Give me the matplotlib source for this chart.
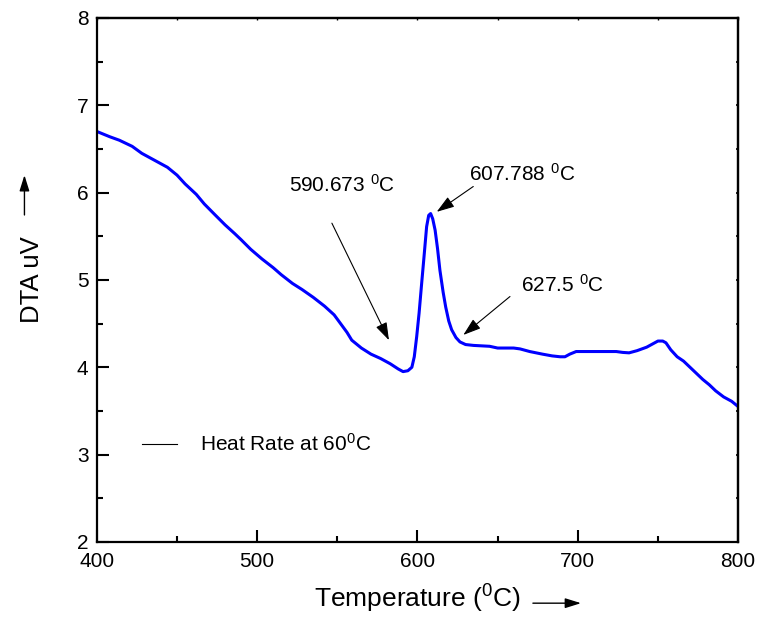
import matplotlib

matplotlib.use("Agg")
import matplotlib.pyplot as plt
from matplotlib.lines import Line2D
from matplotlib.ticker import MultipleLocator

plt.rcParams["font.family"] = ["Liberation Sans", "DejaVu Sans"]
plt.rcParams["mathtext.fontset"] = "custom"
plt.rcParams["mathtext.rm"] = "Liberation Sans"
plt.rcParams["mathtext.it"] = "Liberation Sans"

# DTA trace (temperature in degC, signal in uV)
temperature = [
    400, 408, 414, 422, 428, 436, 444, 450, 455, 462, 467, 474, 480, 486, 490,
    496, 503, 510, 515, 522, 528, 535, 542, 548, 552, 556, 559, 565, 571, 577,
    583, 588, 591, 594, 596.5, 598, 599.5, 601, 602.6, 604, 605.7, 607, 608.2,
    609.5, 611, 612.5, 614, 616, 617.6, 619.5, 621.3, 624, 626.5, 630, 635, 645,
    650, 656, 660, 664, 670, 678, 684, 689, 692, 695, 699, 705, 712, 718, 724,
    728, 732, 737, 743, 747, 750, 753, 755, 758, 762, 766, 770, 774, 778, 782,
    786, 791, 796, 800,
]
dta = [
    6.70, 6.64, 6.60, 6.53, 6.45, 6.37, 6.29, 6.20, 6.10, 5.98, 5.87, 5.74, 5.63,
    5.53, 5.46, 5.35, 5.24, 5.14, 5.06, 4.96, 4.89, 4.80, 4.70, 4.60, 4.50, 4.40,
    4.31, 4.22, 4.15, 4.10, 4.04, 3.98, 3.95, 3.96, 4.00, 4.12, 4.35, 4.62, 4.96,
    5.25, 5.61, 5.74, 5.76, 5.70, 5.57, 5.36, 5.11, 4.86, 4.69, 4.53, 4.43, 4.34,
    4.29, 4.26, 4.25, 4.24, 4.22, 4.22, 4.22, 4.21, 4.18, 4.15, 4.13, 4.12, 4.12,
    4.15, 4.18, 4.18, 4.18, 4.18, 4.18, 4.17, 4.165, 4.19, 4.23, 4.27, 4.30, 4.30,
    4.28, 4.20, 4.12, 4.07, 4.00, 3.93, 3.86, 3.80, 3.73, 3.66, 3.61, 3.55,
]

# annotations: label, text position, arrow tail, arrow head
annot_labels = ["590.673 $^0$C", "607.788 $^0$C", "627.5 $^0$C"]
annot_text_xy = [(519.8, 6.09), (632.3, 6.21), (664.4, 4.94)]
annot_tail_xy = [(546.6, 5.65), (634.8, 6.07), (657.7, 4.81)]
annot_head_xy = [(582.2, 4.31), (612.0, 5.78), (628.6, 4.37)]

legend_label = "Heat Rate at 60$^0$C"

fig = plt.figure(figsize=(7.57, 6.2), dpi=100)
ax = fig.add_axes([0.128, 0.126, 0.847, 0.845])

ax.plot(temperature, dta, color="#0000ff", lw=2.2)

ax.set_xlim(400, 800)
ax.set_ylim(2, 8)
ax.xaxis.set_major_locator(MultipleLocator(100))
ax.xaxis.set_minor_locator(MultipleLocator(50))
ax.yaxis.set_major_locator(MultipleLocator(1))
ax.yaxis.set_minor_locator(MultipleLocator(0.5))
ax.tick_params(which="both", direction="in", labelsize=15, width=1.5)
ax.tick_params(which="major", length=8.5)
ax.tick_params(which="minor", length=4.5)
ax.tick_params(axis="x", pad=7)
ax.tick_params(axis="y", pad=6)
for side in ["left", "bottom", "top", "right"]:
    ax.spines[side].set_linewidth(1.6)

# the top and right axes only carry faint stub ticks
top = ax.secondary_xaxis("top")
top.xaxis.set_major_locator(MultipleLocator(50))
top.tick_params(direction="in", length=1.2, width=1.0, labeltop=False)
right = ax.secondary_yaxis("right")
right.yaxis.set_major_locator(MultipleLocator(0.5))
right.tick_params(direction="in", length=1.5, width=1.2, labelright=False)
top.spines["top"].set_linewidth(1.6)
right.spines["right"].set_linewidth(1.6)

ax.set_xlabel("Temperature ($^0$C)", fontsize=19, labelpad=9)
ax.set_ylabel("DTA uV", fontsize=18.5, labelpad=24)

# direction arrows next to the axis labels
ax.annotate("", xy=(0.755, -0.117), xytext=(0.68, -0.117), xycoords="axes fraction",
            textcoords="axes fraction", annotation_clip=False,
            arrowprops=dict(arrowstyle="-|>,head_length=0.8,head_width=0.25", color="black",
                            lw=1.0, mutation_scale=12, shrinkA=0, shrinkB=0))
ax.annotate("", xy=(-0.113, 0.70), xytext=(-0.113, 0.624), xycoords="axes fraction",
            textcoords="axes fraction", annotation_clip=False,
            arrowprops=dict(arrowstyle="-|>,head_length=0.8,head_width=0.25", color="black",
                            lw=1.0, mutation_scale=12, shrinkA=0, shrinkB=0))

for label, text_xy, tail, head in zip(annot_labels, annot_text_xy, annot_tail_xy, annot_head_xy):
    ax.text(text_xy[0], text_xy[1], label, fontsize=15, ha="left", va="center")
    ax.annotate("", xy=head, xytext=tail,
                arrowprops=dict(arrowstyle="-|>,head_length=0.9,head_width=0.3", color="black",
                                lw=0.8, mutation_scale=12, shrinkA=0, shrinkB=0))

handle = Line2D([], [], color="black", lw=0.8)
ax.legend([handle], [legend_label], loc="center left", bbox_to_anchor=(0.07, 0.187),
          frameon=False, fontsize=15, handlelength=1.7, handletextpad=1.1,
          borderpad=0, borderaxespad=0)

fig.savefig("out.png", dpi=100)
plt.close(fig)
